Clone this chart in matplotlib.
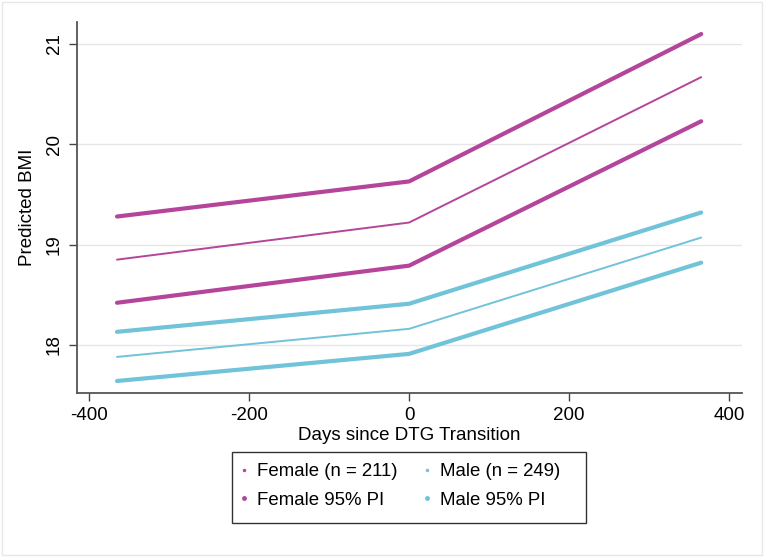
import matplotlib
matplotlib.use("Agg")
import matplotlib.pyplot as plt
from matplotlib.patches import Rectangle
from matplotlib.lines import Line2D

plt.rcParams["font.family"] = ["Liberation Sans", "DejaVu Sans"]

# days relative to DTG transition
days = [-365, 0, 365]

female_pred = [18.85, 19.22, 20.67]
female_hi = [19.28, 19.63, 21.10]
female_lo = [18.42, 18.79, 20.23]

male_pred = [17.88, 18.16, 19.07]
male_hi = [18.13, 18.41, 19.32]
male_lo = [17.64, 17.91, 18.82]

labels = ["Female (n = 211)", "Female 95% PI", "Male (n = 249)", "Male 95% PI"]
xticks = [-400, -200, 0, 200, 400]
yticks = [18, 19, 20, 21]

fem_col = "#B5459A"
male_col = "#70C3D8"

fig = plt.figure(figsize=(7.64, 5.57), dpi=100)
fig.patch.set_facecolor("white")
ax = fig.add_axes([77 / 764, 1 - 393 / 557, (742 - 77) / 764, (393 - 22) / 557])

ax.plot(days, female_hi, color=fem_col, lw=3.0, solid_capstyle="round")
ax.plot(days, female_pred, color=fem_col, lw=1.4, solid_capstyle="round")
ax.plot(days, female_lo, color=fem_col, lw=3.0, solid_capstyle="round")
ax.plot(days, male_hi, color=male_col, lw=3.0, solid_capstyle="round")
ax.plot(days, male_pred, color=male_col, lw=1.4, solid_capstyle="round")
ax.plot(days, male_lo, color=male_col, lw=3.0, solid_capstyle="round")

ax.set_xlim(-415, 416)
ax.set_ylim(17.52, 21.22)
ax.set_xticks(xticks)
ax.set_yticks(yticks)
ax.set_xticklabels([str(t) for t in xticks], fontsize=13.5)
ax.set_yticklabels([str(t) for t in yticks], fontsize=13.5, rotation=90, va="center")
ax.tick_params(axis="both", length=6, width=1.0, color="#444444", pad=4)

ax.grid(axis="y", color="#E6E6E6", lw=1.0)
ax.set_axisbelow(True)
for s in ["top", "right"]:
    ax.spines[s].set_visible(False)
for s in ["left", "bottom"]:
    ax.spines[s].set_color("#555555")
    ax.spines[s].set_linewidth(1.3)

ax.set_xlabel("Days since DTG Transition", fontsize=13.5, labelpad=2)
ax.set_ylabel("Predicted BMI", fontsize=13.5, labelpad=7)

# legend box
fig.patches.append(Rectangle((232 / 764, 1 - 523 / 557), (586 - 232) / 764, (523 - 452) / 557,
                             transform=fig.transFigure, fill=False, edgecolor="#333333", lw=1.0))

handles = [
    Line2D([], [], ls="none", marker="o", ms=1.5, color=fem_col),
    Line2D([], [], ls="none", marker="o", ms=2.5, color=fem_col),
    Line2D([], [], ls="none", marker="o", ms=1.5, color=male_col),
    Line2D([], [], ls="none", marker="o", ms=2.5, color=male_col),
]
fig.legend(handles, labels, ncol=2, frameon=False, fontsize=13.4,
           loc="upper left", bbox_to_anchor=(225 / 764, 1 - 450 / 557),
           handlelength=0.6, handletextpad=0.4, columnspacing=1.3,
           labelspacing=0.62, borderpad=0.2)

# outer frame of the image
fig.patches.append(Rectangle((0.003, 0.004), 0.994, 0.992, transform=fig.transFigure,
                             fill=False, edgecolor="#E8E8E8", lw=1.0))

fig.savefig("out.png", dpi=100)
